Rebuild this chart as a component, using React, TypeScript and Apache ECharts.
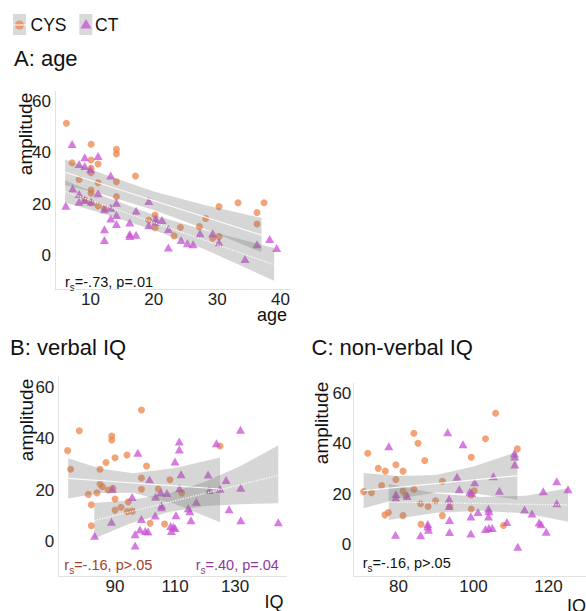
import React, { useEffect, useRef } from 'react';
import * as echarts from 'echarts';

const FONT = '"Liberation Sans", Arial, Helvetica, sans-serif';

// ---------- Panel A: age vs amplitude ----------
const ageCys: [number, number][] = [
  [6.2, 51.6], [7.1, 36.2], [8.2, 29.7], [9.1, 21.7], [10.1, 43.4], [10.1, 37.3], [10.1, 34],
  [10.1, 32.3], [10.1, 25.6], [10.1, 24.3], [10.1, 20.6], [11.2, 35.7], [11.2, 28.4], [11.2, 19.4],
  [12.2, 18.4], [14.1, 41.4], [14.1, 39.6], [14.1, 28.8], [14.1, 23], [17.1, 31], [19.2, 13.9],
  [20.2, 15.8], [20.2, 10.9], [23.2, 7.7], [24.2, 11], [27.2, 11.3], [28.2, 14.5], [29.3, 6.8],
  [30.3, 19.1], [30.3, 7.4], [33.3, 20.6], [36.3, 16.8], [36.3, 12.3], [37.4, 20.6],
];
const ageCt: [number, number][] = [
  [6.1, 19.4], [7.1, 43.5], [7.2, 26.2], [8.2, 35.7], [8.2, 24], [8.2, 21], [9.1, 34.9], [9.1, 38.3],
  [9.1, 21.7], [10.1, 21], [10.0, 33.7], [11.2, 38.8], [11.2, 24.3], [12.2, 18.1], [12.2, 10.3],
  [12.2, 6.1], [13.2, 31.2], [13.2, 18.7], [13.2, 14.5], [14.1, 20.6], [14.1, 15.8], [14.1, 12.3],
  [16.2, 12.9], [16.2, 8.4], [16.2, 7.7], [17.2, 17.5], [17.2, 8.1], [19.2, 21.3], [19.2, 11.8],
  [20.3, 14.5], [20.3, 13.2], [21.3, 13.9], [22.3, 10.4], [22.3, 3.2], [24.3, 6.1], [25.3, 4.8],
  [26.2, 4.4], [27.3, 8.7], [29.3, 8.7], [30.3, 5.2], [34.4, -1.3], [36.3, 4.4], [38.3, 6.5], [39.4, 3],
];
const ageCysFit: [number, number][] = [[6, 32.5], [37, 8]];
const ageCtFit: [number, number][] = [[6, 25], [39, -3.5]];
const ageCysBandX = [6, 12, 20, 28, 37];
const ageCysBandLo = [27.5, 23.8, 17.8, 10.5, 1.3];
const ageCysBandHi = [37.5, 31.8, 25, 19.7, 14.7];
const ageCtBandX = [6, 12, 20, 28, 39];
const ageCtBandLo = [20.7, 16.4, 10, 2.5, -9.8];
const ageCtBandHi = [29.3, 23.2, 15.8, 10, 3];

// ---------- Panel B: verbal IQ vs amplitude ----------
const vIqCys: [number, number][] = [
  [74.2, 35.4], [75.2, 28.2], [78.1, 43.1], [81.1, 18.4], [82.1, 14.4], [82.1, 6.2], [84, 19],
  [85, 28.2], [85, 22.4], [85.8, 21.4], [87, 30.8], [87.7, 20.1], [88.9, 41.1], [88.9, 39.5],
  [89.3, 20.8], [90, 32.6], [90, 16.6], [90, 12.3], [92, 13.4], [94, 33.7], [94.4, 15.5],
  [94.1, 11.7], [95.8, 11.9], [98.8, 51.2], [98.8, 24.8], [98.8, 20.4], [100.5, 29.4], [101.7, 7.2],
  [104.4, 20.5], [106.5, 6.9], [108.3, 24.1], [112.2, 19], [125, 37.2],
];
const vIqCt: [number, number][] = [
  [83.2, 2.3], [88.8, 7.8], [89.1, 20.5], [95.7, 17.4], [96.7, 2.9], [96.7, -1.5], [97.6, 34.6],
  [98.8, 8.8], [98.3, 4.8], [100.1, 4.2], [101, 4.0], [101.5, 24.2], [103.4, 10.2], [103.5, 17.5],
  [105.3, 19.2], [105.5, 14.2], [105.5, 13.4], [107.3, 18.9], [108.5, 6.1], [108.8, 4.2], [109.4, 5.8],
  [110, 5.3], [110.3, 10.3], [110, 31.2], [111.4, 38.9], [111.4, 35.8], [111.5, 20.8], [112, 26.2],
  [114.4, 13], [114.9, 11.9], [115.3, 8.4], [117.1, 15.5], [121, 26.1], [121.4, 20.1], [123.8, 38.3],
  [125, 20.6], [127, 24], [128, 12.6], [131.8, 43.5], [131.9, 21], [131.9, 8.4], [144.4, 7.6],
];
const vIqCysFit: [number, number][] = [[74.4, 24.6], [125, 20.5]];
const vIqCtFit: [number, number][] = [[83.1, 8.2], [144.4, 25.8]];
const vIqCysBandX = [74.4, 85, 96, 110, 125];
const vIqCysBandLo = [16.8, 18.9, 19, 14.7, 7.6];
const vIqCysBandHi = [32.4, 28.5, 26.6, 28.7, 32.7];
const vIqCtBandX = [83.1, 95, 108, 120, 132, 144.4];
const vIqCtBandLo = [1.3, 7.1, 11.6, 13.9, 14.6, 15];
const vIqCtBandHi = [15.1, 16.1, 18.8, 23.3, 29.5, 37.5];

// ---------- Panel C: non-verbal IQ vs amplitude ----------
const nvIqCys: [number, number][] = [
  [70.7, 21.1], [71.8, 36.3], [72.8, 20.7], [74.6, 30.3], [75.5, 23.5], [76.5, 29.2], [76.4, 11.9],
  [77.3, 12.8], [79.3, 31.7], [79.3, 25.9], [81.2, 29.2], [81.2, 21.3], [81.2, 11.6], [82, 19.6],
  [84.1, 22], [84.1, 44.2], [85.2, 40.2], [85.9, 16.3], [86, 8.2], [87, 33.4], [87.9, 15.2],
  [89.9, 17.5], [91.7, 25.2], [91.7, 11.6], [93.7, 15.2], [99.4, 34.7], [99.4, 14.2], [100.2, 21.4],
  [99.4, 19.8], [103.2, 42], [105.9, 52.1], [108, 7.7], [111.7, 38],
];
const nvIqCt: [number, number][] = [
  [77.4, 39], [79.3, 20.2], [79.3, 18.8], [79.2, 4], [82.3, 19.4], [85.9, 3.8], [87.8, 8.3],
  [87.8, 7.3], [88, 6], [93.1, 44.6], [93.5, 18.3], [93.5, 15.4], [93.6, 9.9], [93.6, 5.1],
  [95.6, 27], [96.2, 22], [97.2, 39.8], [99, 21], [99.5, 20.6], [99.3, 11.2], [99.3, 4.5],
  [100.3, 24.8], [101.2, 13], [103.2, 6.3], [104, 14.4], [104.1, 13.3], [104, 11.2], [104.1, 6.7],
  [105, 6.7], [105.3, 27.2], [106.9, 21.4], [108.9, 9.1], [110.9, 36.2], [111, 35], [111, 31.8],
  [111.8, -0.7], [113.6, 14], [115.6, 12.4], [117.5, 8.9], [118, 8.2], [118.6, 21.2], [119.4, 5.2],
  [122.2, 25.2], [122.2, 16.5], [125.2, 22],
];
const nvIqCysFit: [number, number][] = [[70.7, 21.5], [111.7, 27.4]];
const nvIqCtFit: [number, number][] = [[77.4, 17], [125.2, 15.8]];
const nvIqCysBandX = [70.7, 80, 90, 100, 111.7];
const nvIqCysBandLo = [14.5, 18.3, 20.7, 20.4, 17.9];
const nvIqCysBandHi = [28.5, 27.3, 27.7, 31, 36.9];
const nvIqCtBandX = [77.4, 90, 102, 114, 125.2];
const nvIqCtBandLo = [9.9, 12.7, 13.5, 12.5, 9.2];
const nvIqCtBandHi = [24.1, 20.3, 19, 19.5, 22.4];

// ---------- Ticks ----------
const ageTicks = [10, 20, 30, 40];
const vIqTicks = [90, 110, 130];
const nvIqTicks = [80, 100, 120];
const ampTicks = [0, 20, 40, 60];

const CYS_COLOR = '#F0844A';
const CT_COLOR = '#C94FD6';
const BAND_FILL = 'rgba(120,120,120,0.3)';

function bandSeries(idx: number, xs: number[], lo: number[], hi: number[]) {
  return {
    type: 'custom',
    xAxisIndex: idx,
    yAxisIndex: idx,
    silent: true,
    z: 3,
    data: xs.map((x, i) => [x, lo[i], hi[i]]),
    renderItem: (params: any, api: any) => {
      if (params.dataIndex !== 0) return null;
      const pts: number[][] = [];
      for (let i = 0; i < xs.length; i++) pts.push(api.coord([xs[i], hi[i]]));
      for (let i = xs.length - 1; i >= 0; i--) pts.push(api.coord([xs[i], lo[i]]));
      return { type: 'polygon', shape: { points: pts }, style: { fill: BAND_FILL } };
    },
  };
}

function scatterSeries(idx: number, data: [number, number][], ct: boolean) {
  return {
    type: 'scatter',
    xAxisIndex: idx,
    yAxisIndex: idx,
    silent: true,
    z: 2,
    data,
    symbol: ct ? 'triangle' : 'circle',
    symbolSize: ct ? [9, 8] : 7,
    itemStyle: { color: ct ? CT_COLOR : CYS_COLOR, opacity: 0.75 },
  };
}

function fitSeries(idx: number, data: [number, number][], dotted: boolean) {
  return {
    type: 'line',
    xAxisIndex: idx,
    yAxisIndex: idx,
    silent: true,
    z: 4,
    data,
    showSymbol: false,
    symbol: 'none',
    lineStyle: { color: '#ffffff', width: dotted ? 1.3 : 1.2, type: dotted ? 'dotted' : 'solid', opacity: 0.9 },
  };
}

function mkX(gi: number, min: number, max: number, ticks: number[]) {
  return {
    type: 'value', gridIndex: gi, min, max,
    axisLine: { show: true, onZero: false, lineStyle: { color: '#e2e2e2', width: 1 } },
    axisTick: { show: false }, splitLine: { show: false },
    axisLabel: { customValues: ticks, fontSize: 17, color: '#222', margin: 2, fontFamily: FONT },
  };
}
function mkY(gi: number, min: number, max: number, ticks: number[], margin: number) {
  return {
    type: 'value', gridIndex: gi, min, max,
    axisLine: { show: true, onZero: false, lineStyle: { color: '#e2e2e2', width: 1 } },
    axisTick: { show: false }, splitLine: { show: false },
    axisLabel: { customValues: ticks, fontSize: 17, color: '#222', margin, fontFamily: FONT },
  };
}

function rsText(x: number, y: number, rest: string, color: string) {
  return {
    type: 'text', x, y, silent: true,
    style: {
      text: `{a|r}{b|s}{a|${rest}}`,
      verticalAlign: 'middle',
      align: 'left',
      rich: {
        a: { fontSize: 14.5, fontFamily: FONT, fill: color, lineHeight: 18, verticalAlign: 'bottom' },
        b: { fontSize: 10, fontFamily: FONT, fill: color, lineHeight: 18, verticalAlign: 'bottom', padding: [0, 0, -3, 0] },
      },
    },
  };
}

function plainText(x: number, y: number, text: string, size: number, align = 'left', rotation = 0) {
  return {
    type: 'text', x, y, rotation, silent: true,
    style: { text, fontSize: size, fontFamily: FONT, fill: '#111', align, verticalAlign: 'middle' },
  };
}

export default function App() {
  const ref = useRef<HTMLDivElement>(null);
  useEffect(() => {
    if (!ref.current) return;
    const chart = echarts.init(ref.current, undefined, { renderer: 'svg' });
    const option: any = {
      animation: false,
      backgroundColor: '#ffffff',
      grid: [
        { left: 55, top: 91.4, width: 235.6, height: 197.6 },
        { left: 58.3, top: 377, width: 228.4, height: 199 },
        { left: 353.3, top: 383.2, width: 240.4, height: 192.8 },
      ],
      xAxis: [
        mkX(0, 4.4, 41.6, ageTicks),
        mkX(1, 71.1, 147.2, vIqTicks),
        mkX(2, 67.95, 130, nvIqTicks),
      ],
      yAxis: [
        mkY(0, -13, 64, ampTicks, 4),
        mkY(1, -13.3, 64, ampTicks, 4),
        mkY(2, -12.3, 64, ampTicks, 2),
      ],
      series: [
        scatterSeries(0, ageCys, false),
        scatterSeries(0, ageCt, true),
        bandSeries(0, ageCysBandX, ageCysBandLo, ageCysBandHi),
        bandSeries(0, ageCtBandX, ageCtBandLo, ageCtBandHi),
        fitSeries(0, ageCysFit, false),
        fitSeries(0, ageCtFit, true),

        scatterSeries(1, vIqCys, false),
        scatterSeries(1, vIqCt, true),
        bandSeries(1, vIqCysBandX, vIqCysBandLo, vIqCysBandHi),
        bandSeries(1, vIqCtBandX, vIqCtBandLo, vIqCtBandHi),
        fitSeries(1, vIqCysFit, false),
        fitSeries(1, vIqCtFit, true),

        scatterSeries(2, nvIqCys, false),
        scatterSeries(2, nvIqCt, true),
        bandSeries(2, nvIqCysBandX, nvIqCysBandLo, nvIqCysBandHi),
        bandSeries(2, nvIqCtBandX, nvIqCtBandLo, nvIqCtBandHi),
        fitSeries(2, nvIqCysFit, false),
        fitSeries(2, nvIqCtFit, true),
      ],
      graphic: [
        // legend
        { type: 'rect', shape: { x: 13, y: 14, width: 13, height: 21 }, style: { fill: '#d9d9d9' }, silent: true },
        { type: 'circle', shape: { cx: 19.5, cy: 25, r: 4.5 }, style: { fill: CYS_COLOR, opacity: 0.75 }, silent: true },
        { type: 'line', shape: { x1: 13, y1: 25, x2: 26, y2: 25 }, style: { stroke: '#ffffff', lineWidth: 1 }, silent: true },
        plainText(30.5, 25, 'CYS', 17.5),
        { type: 'rect', shape: { x: 79.3, y: 14, width: 13, height: 21 }, style: { fill: '#d9d9d9' }, silent: true },
        { type: 'polygon', shape: { points: [[80.5, 28.5], [86, 19], [91.5, 28.5]] }, style: { fill: CT_COLOR, opacity: 0.75 }, silent: true },
        plainText(95, 25, 'CT', 17.5),
        // titles
        plainText(14, 58.5, 'A: age', 22),
        plainText(10, 347, 'B: verbal IQ', 22),
        plainText(311.5, 347, 'C: non-verbal IQ', 22),
        // axis titles
        plainText(25.5, 134, 'amplitude', 19, 'center', Math.PI / 2),
        plainText(26, 420, 'amplitude', 19, 'center', Math.PI / 2),
        plainText(321.7, 423, 'amplitude', 19, 'center', Math.PI / 2),
        plainText(287, 314.5, 'age', 18, 'right'),
        plainText(283.5, 602, 'IQ', 18, 'right'),
        plainText(586, 606, 'IQ', 18, 'right'),
        // correlation annotations
        rsText(65, 280, '=-.73, p=.01', '#111'),
        rsText(64.3, 563.3, '=-.16, p>.05', '#A0412D'),
        rsText(195.7, 563.3, '=.40, p=.04', '#8E3A9D'),
        rsText(362.7, 561.7, '=-.16, p>.05', '#111'),
      ],
    };
    chart.setOption(option);
    return () => chart.dispose();
  }, []);
  return (
    <div
      ref={ref}
      style={{ position: 'absolute', left: 0, top: 0, width: 586, height: 611, background: '#fff' }}
    />
  );
}
